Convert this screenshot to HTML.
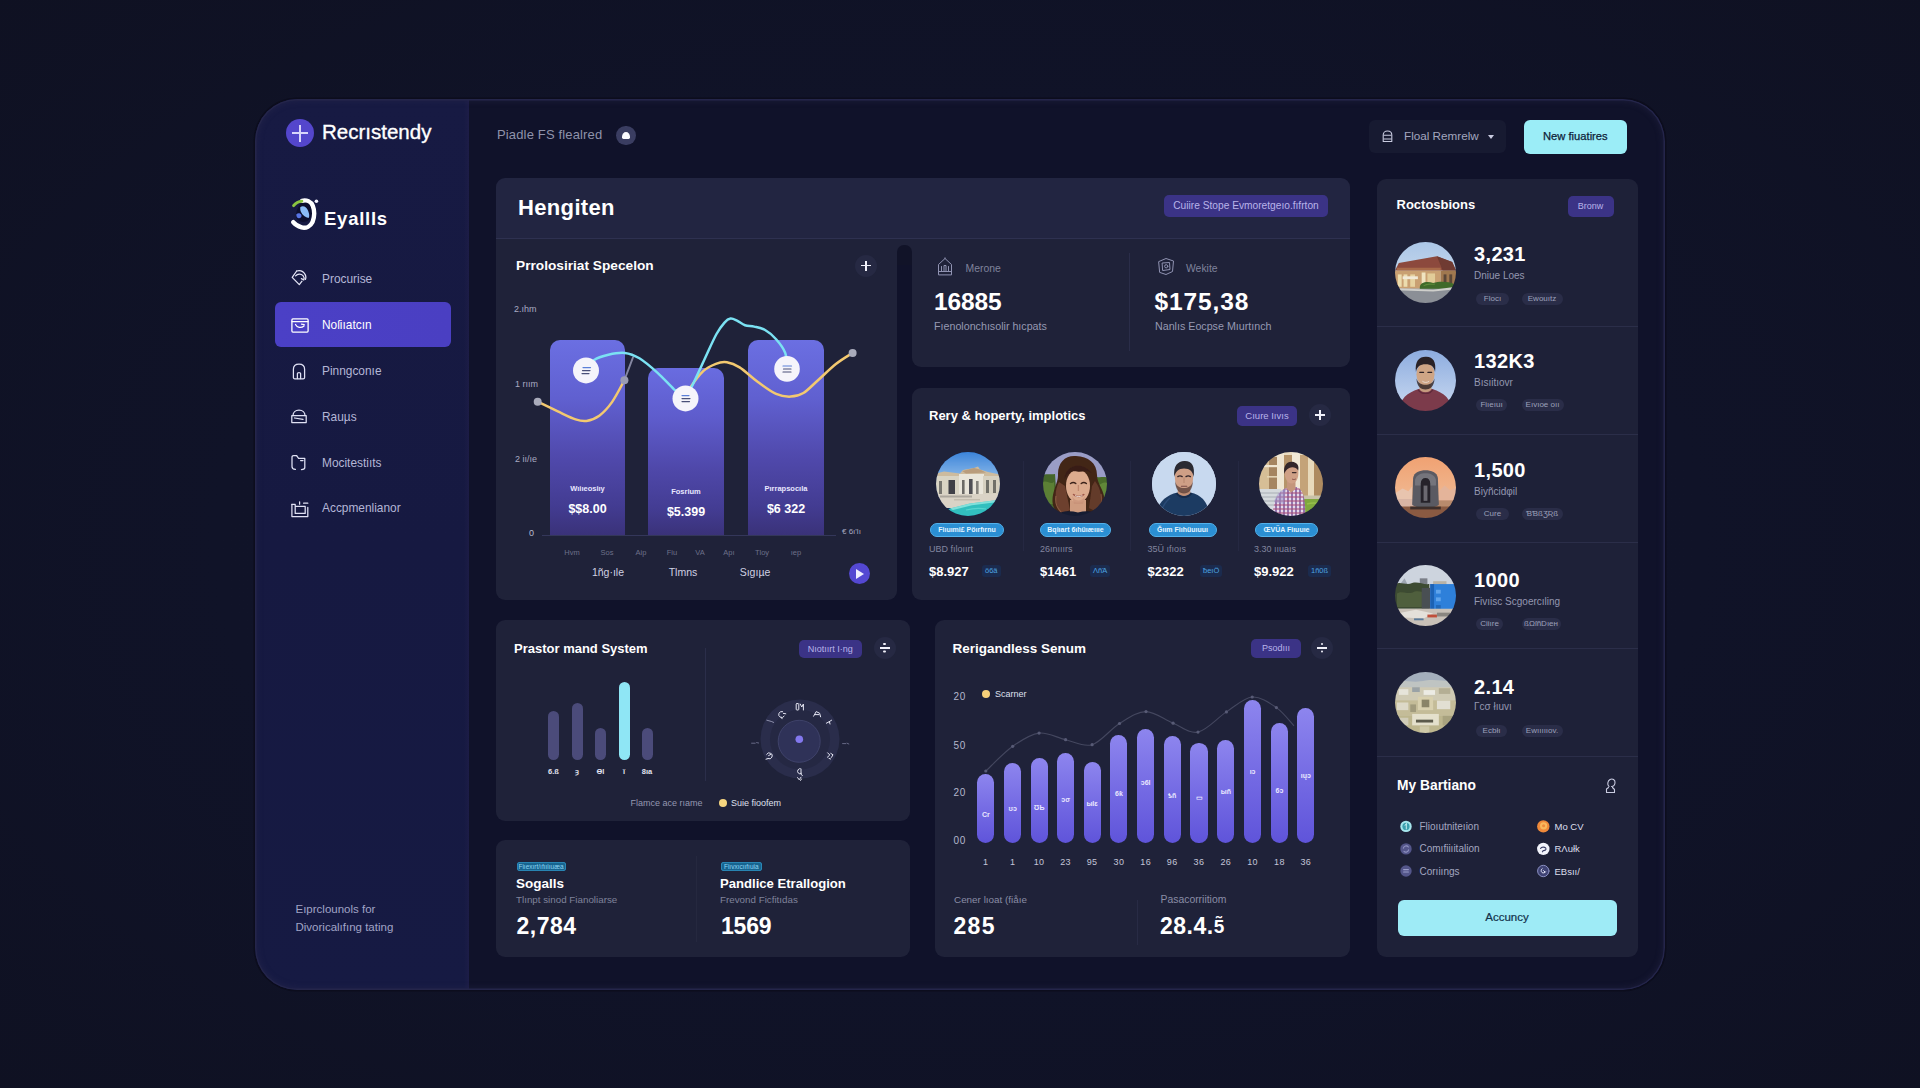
<!DOCTYPE html>
<html lang="en">
<head>
<meta charset="utf-8">
<title>Dashboard</title>
<style>
*{box-sizing:border-box;margin:0;padding:0}
html,body{width:1920px;height:1088px;overflow:hidden}
body{font-family:"Liberation Sans",sans-serif;color:#fff;background:#0e101f;position:relative}
.bg{position:absolute;left:0;top:0;width:1920px;height:1088px;background:radial-gradient(ellipse 1350px 800px at 960px 544px,#11142a 0%,#101328 55%,#0f1122 100%)}
.abs{position:absolute}
.t{position:absolute;white-space:nowrap;line-height:1}
.b{font-weight:bold}
.app{position:absolute;left:255px;top:99px;width:1410px;height:891px;border-radius:42px;background:#10122a;overflow:hidden;box-shadow:0 0 0 1.5px #0c0d1d}
.frame{position:absolute;left:0;top:0;width:1410px;height:891px;border-radius:42px;box-shadow:inset 0 0 0 1.5px #24254a,inset 0 0 6px 2px rgba(44,44,80,.45)}
.side{position:absolute;left:0;top:0;width:214px;height:891px;background:linear-gradient(180deg,#181b47 0%,#161944 60%,#161a45 100%)}
.card{position:absolute;background:#1f2239;border-radius:9px}
.pill{position:absolute;background:#3b3386;border-radius:5px;color:#b9b4ea;font-size:9.5px;text-align:center;white-space:nowrap}
.cbtn{position:absolute;width:22px;height:22px;border-radius:50%;background:#262943}
.cbtn:before{content:"";position:absolute;left:6px;top:10.35px;width:10px;height:1.3px;background:#f1f1fa}
.cbtn:after{content:"";position:absolute;left:10.35px;top:6px;width:1.3px;height:10px;background:#f1f1fa}
.cbtn.div:after{left:9.9px;top:6.1px;width:2.2px;height:2.2px;border-radius:50%;box-shadow:0 7.6px 0 #f1f1fa}
.cbtn.div:before{top:10.3px;height:1.4px}
.nav{position:absolute;left:67px;font-size:11.9px;color:#b4b6d6;white-space:nowrap;line-height:1}
.ico{position:absolute;left:36px;width:16px;height:16px}
.ico svg,.abs svg{display:block}
.tag{position:absolute;height:12px;border-radius:6px;background:#2a2d48;color:#9da0ba;font-size:8px;line-height:12px;text-align:center}
.sub{position:absolute;font-size:10px;color:#9497b0;white-space:nowrap;line-height:1}
.num{position:absolute;font-size:20px;font-weight:bold;white-space:nowrap;line-height:1;letter-spacing:.35px}
.hr{position:absolute;left:0;width:261px;height:1px;background:#2b2e49}
.av{position:absolute;width:62px;height:62px;border-radius:50%;overflow:hidden}
.av svg{display:block}
.bp{position:absolute;height:14px;border-radius:7px;background:#2b8fd3;border:1px solid #52b1ea;color:#e4f4ff;font-size:7px;line-height:12px;text-align:center;font-weight:bold;white-space:nowrap}
.pr{position:absolute;font-size:13px;font-weight:bold;white-space:nowrap;line-height:1}
.mt{position:absolute;height:12px;border-radius:3px;background:#1b2b4e;color:#4ea4e0;font-size:7.5px;line-height:12px;text-align:center;padding:0 3px}
.li{position:absolute;font-size:10px;white-space:nowrap;line-height:1}
</style>
</head>
<body>
<div class="bg"></div>
<div class="app">
<div class="pg" style="position:absolute;left:-255px;top:-99px;width:1920px;height:1088px">
  <div class="abs" style="left:255px;top:99px;width:214px;height:891px;background:linear-gradient(180deg,#171a43 0%,#161941 50%,#161a43 100%)"></div>
  <div class="abs" style="left:464px;top:99px;width:5px;height:891px;background:linear-gradient(90deg,rgba(40,34,80,0),rgba(40,34,80,.35))"></div>
  <!-- SIDEBAR -->
  <div class="abs" style="left:286px;top:119px;width:28px;height:28px;border-radius:50%;background:#5446cc">
    <div class="abs" style="left:6px;top:13.45px;width:16px;height:1.1px;background:#d9d5fb"></div>
    <div class="abs" style="left:13.45px;top:5.5px;width:1.1px;height:17px;background:#d9d5fb"></div>
  </div>
  <div class="t" id="brand" style="left:322px;top:122px;font-size:20.5px;color:#fff;-webkit-text-stroke:.35px #fff">Recrıstendy</div>
  <div class="abs" style="left:288px;top:196px"><svg width="32" height="36" viewBox="288 196 32 36" fill="none" stroke-linecap="round">
    <path d="M302 202.5C306.5 200.5 311.5 202.5 312.6 207.5C313.4 211.5 312 217.5 308 220.5C304.5 223 299.5 222 297.5 219.5C295 216 296 207.5 302 202.5Z" fill="#0d0f2e"/>
    <path d="M302 200.8C306.5 199.6 311 201.6 312.8 205.8C314.6 210 314.8 217 312.6 221.8C310.4 226.4 306 228.6 301.6 227.4C297.6 226.3 294.6 224 293.2 222.2" stroke="#fff" stroke-width="4.4"/>
    <path d="M293.6 205.6C295.8 202.8 298.6 201.4 301.8 201.2" stroke="#8ac440" stroke-width="3"/>
    <path d="M300.4 207C303.6 205.2 306.8 207.4 308.2 211C309.4 214 309.6 216.6 308.6 218C305.6 217.6 302.4 215 301 212C300.2 210.2 300 208.4 300.4 207Z" fill="#8bbcf8"/>
    <path d="M296.4 214.2C298 212.8 300.6 213.2 301.4 215C302 216.8 300.8 218.2 298.8 218.2C297.2 218.2 296 216.4 296.4 214.2Z" fill="#5774e4"/>
    <circle cx="316.4" cy="201.3" r="1.8" fill="#f4f4ff"/>
  </svg></div>
  <div class="t b" id="ey" style="left:324px;top:209.5px;font-size:18.5px;letter-spacing:.75px">Eyallls</div>

  <div class="abs" style="left:275px;top:302px;width:176px;height:45px;border-radius:6px;background:linear-gradient(90deg,#4b40c6,#4a3fc2)"></div>
  <div class="nav" style="left:322px;top:274px">Procurise</div>
  <div class="nav" style="left:322px;top:320px;color:#fff">Noſiıatcın</div>
  <div class="nav" style="left:322px;top:365.5px">Pinngconıe</div>
  <div class="nav" style="left:322px;top:412px">Rauµs</div>
  <div class="nav" style="left:322px;top:457.5px">Mocitestiıts</div>
  <div class="nav" style="left:322px;top:502.5px">Accpmenlianor</div>
  <!-- nav icons -->
  <div class="abs" style="left:291px;top:270px"><svg width="17" height="16" viewBox="0 0 17 16" fill="none" stroke="#e4e5f6" stroke-width="1.25" stroke-linecap="round" stroke-linejoin="round"><path d="M5.7 1L1.2 7.4L8.3 14.6L11 11.2"/><path d="M5.7 1C9 .2 12.6 1.6 14.2 4.6C15 6.2 15 8 14.4 9.4"/><path d="M4.6 5.8C6.4 3.6 10 3.4 12 5.6C13.2 7 13.4 8.6 12.8 10L10.4 8.6"/></svg></div>
  <div class="abs" style="left:290.5px;top:317.5px"><svg width="18" height="15" viewBox="0 0 18 15" fill="none" stroke="#fff" stroke-width="1.3" stroke-linecap="round" stroke-linejoin="round"><rect x=".9" y=".9" width="16.2" height="13.2" rx="1"/><path d="M1 3.6H17"/><path d="M4.5 6.5C6 9.5 10 10.5 13 8M10.5 6.2L13.2 6.6"/></svg></div>
  <div class="abs" style="left:292px;top:363px"><svg width="14" height="17" viewBox="0 0 14 17" fill="none" stroke="#e0e1f4" stroke-width="1.25" stroke-linecap="round" stroke-linejoin="round"><path d="M1.4 14.5V6.2C1.4 3 3.6 1 7 1C10.4 1 12.6 3 12.6 6.2V14.5C12.6 15.4 12 15.8 11.2 15.8H2.8C2 15.8 1.4 15.4 1.4 14.5Z"/><path d="M5.4 15.5V10.5C5.4 9.3 8.6 9.3 8.6 10.5V15.5"/></svg></div>
  <div class="abs" style="left:291px;top:409px"><svg width="16" height="15" viewBox="0 0 16 15" fill="none" stroke="#e0e1f4" stroke-width="1.25" stroke-linecap="round" stroke-linejoin="round"><path d="M.8 6.6H15.2V13.6H.8Z"/><path d="M2 6.6C2 3.4 4.4 1.2 8 1.2C11.6 1.2 14 3.4 14 6.6"/><path d="M3.6 9L12 10.4"/></svg></div>
  <div class="abs" style="left:291px;top:454px"><svg width="15" height="17" viewBox="0 0 15 17" fill="none" stroke="#e0e1f4" stroke-width="1.25" stroke-linecap="round" stroke-linejoin="round"><path d="M5.6 1.6H2.6C1.6 1.6 1 2.2 1 3.2V12.4C1 14 2.4 15.2 4.4 15.4"/><path d="M5.6 1.6L7.6 4.4H13.8V13.6C13.8 14.8 12.6 15.6 10.4 15.6"/><path d="M9.6 6.6H12"/></svg></div>
  <div class="abs" style="left:290.5px;top:500.5px"><svg width="18" height="17" viewBox="0 0 18 17" fill="none" stroke="#e0e1f4" stroke-width="1.25" stroke-linecap="round" stroke-linejoin="round"><path d="M.9 3.4V15.6H16.8V6.4"/><path d="M.9 3.4H4.2V12.4H14.2V5.4H4.2"/><path d="M8.6 .8V3.2M12.6 2.2H16.8"/></svg></div>
  <div class="t" style="left:295.5px;top:904px;font-size:11.5px;color:#a1a4c6">Eıprclounols for</div>
  <div class="t" style="left:295.5px;top:922px;font-size:11.5px;color:#a1a4c6">Divoricalıfıng tating</div>

  <!-- TOP BAR -->
  <div class="t" style="left:497px;top:128px;font-size:13px;letter-spacing:.15px;color:#8f92ab">Piadle FS flealred</div>
  <div class="abs" style="left:616.4px;top:125.5px;width:19.4px;height:19.4px;border-radius:50%;background:#3a3d61"><div class="abs" style="left:5.4px;top:6.2px;width:8.4px;height:7.6px;border-radius:4.2px 4.2px 1.5px 1.5px / 5px 5px 1.5px 1.5px;background:#fbfbff"></div></div>
  <div class="abs" style="left:1369px;top:120px;width:137px;height:33px;border-radius:6px;background:#171a31"></div>
  <div class="abs" style="left:1382px;top:130px"><svg width="11" height="13" viewBox="0 0 11 13" fill="none" stroke="#c9cbe0" stroke-width="1.1" stroke-linejoin="round"><path d="M1.2 11.5V5C1.2 2.6 3 1 5.5 1C8 1 9.8 2.6 9.8 5V11.5Z"/><path d="M1.5 5.2H9.5M1.5 9H9.5"/></svg></div>
  <div class="t" style="left:1404px;top:130px;font-size:11.7px;color:#a3a6bf">Floal Remrelw</div>
  <div class="abs" style="left:1488px;top:134.5px;width:0;height:0;border-left:3.5px solid transparent;border-right:3.5px solid transparent;border-top:4px solid #c9cbe0"></div>
  <div class="abs" style="left:1524px;top:120px;width:103px;height:33.5px;border-radius:6px;background:#9bedf7"></div>
  <div class="t" style="left:1543px;top:130.5px;font-size:11.2px;color:#0f2238;-webkit-text-stroke:.25px #0f2238">New fiuatires</div>
  <!-- HENGITEN PANEL -->
  <div class="abs" style="left:496px;top:178px;width:854px;height:61px;border-radius:9px 9px 0 0;background:#222541"></div>
  <div class="abs" style="left:496px;top:238px;width:854px;height:1px;background:#2e3150"></div>
  <div class="abs" style="left:496px;top:239px;width:401px;height:361px;border-radius:0 0 9px 9px;background:#1f2239"></div>
  <div class="abs" style="left:897px;top:239px;width:15px;height:14px;background:#1f2239"></div>
  <div class="abs" style="left:897px;top:245px;width:15px;height:20px;border-radius:7px 7px 0 0;background:#111328"></div>
  <div class="abs" style="left:912px;top:239px;width:438px;height:128px;border-radius:0 0 9px 9px;background:#1f2239"></div>
  <div class="t b" style="left:518px;top:196.5px;font-size:22px;letter-spacing:.35px">Hengiten</div>
  <div class="pill" style="left:1164px;top:195px;width:164px;height:22px;line-height:22px;font-size:10.2px">Cuiire Stope Evmoretgeıo.fıfrton</div>

  <!-- chart card -->
  <div class="t b" style="left:516px;top:258.5px;font-size:13.7px">Prrolosiriat Specelon</div>
  <div class="cbtn" style="left:855px;top:254.5px"></div>
  <div class="t" style="left:514px;top:304.5px;font-size:9px;color:#a9abc2">2.ıhm</div>
  <div class="t" style="left:515px;top:379.5px;font-size:9px;color:#a9abc2">1 rıım</div>
  <div class="t" style="left:515px;top:455px;font-size:9px;color:#a9abc2">2 iı/ıe</div>
  <div class="t" style="left:529px;top:529px;font-size:9px;color:#b9bbd0">0</div>
  <div class="t" style="left:842px;top:528px;font-size:8px;color:#a5a8c0">€ 6ı'lı</div>
  <div class="abs" style="left:542px;top:535px;width:294px;height:1px;background:#34375a"></div>
  <div class="abs" style="left:550px;top:340px;width:75px;height:195px;border-radius:10px 10px 0 0;background:linear-gradient(180deg,#6b6fe2 0%,#6060d0 30%,#5049ac 60%,#433c92 85%,#3a3279 100%)"></div>
  <div class="abs" style="left:648px;top:368px;width:76px;height:167px;border-radius:10px 10px 0 0;background:linear-gradient(180deg,#696ce0 0%,#5e5ccc 30%,#4f48aa 60%,#433c92 85%,#3a3279 100%)"></div>
  <div class="abs" style="left:748px;top:340px;width:76px;height:195px;border-radius:10px 10px 0 0;background:linear-gradient(180deg,#6b6fe2 0%,#6060d0 30%,#5049ac 60%,#433c92 85%,#3a3279 100%)"></div>
  <div class="abs" style="left:496px;top:239px"><svg width="401" height="361" viewBox="496 239 401 361" fill="none" stroke-linecap="round" stroke-linejoin="round">
    <path d="M624.4 380.2L633 357.4" stroke="#8587a2" stroke-width="1.9"/>
    <path d="M537.7 401.7C541.0 403.3 551.0 408.2 557.3 411.2C563.6 414.1 570.7 417.8 575.6 419.4C580.5 421.0 582.5 421.5 586.5 420.9C590.5 420.3 595.0 418.8 599.3 415.7C603.5 412.6 607.8 408.0 612.0 402.1C616.2 396.2 622.3 383.9 624.4 380.2" stroke="#f3c970" stroke-width="2.5"/>
    <path d="M685.5 398.4C686.3 396.6 687.4 392.1 690.4 387.5C693.4 382.9 699.0 375.1 703.2 371.1C707.5 367.2 712.0 365.3 715.9 363.8C719.8 362.3 722.9 361.7 726.9 362.3C730.9 362.9 734.4 364.1 739.6 367.4C744.8 370.7 751.8 377.6 757.9 382.0C764.0 386.4 770.6 391.5 776.1 393.9C781.6 396.3 786.2 396.8 790.7 396.6C795.2 396.5 798.9 395.7 803.4 393.0C807.9 390.3 812.5 385.1 818.0 380.2C823.5 375.3 830.4 368.4 836.2 363.8C842.0 359.2 849.9 354.7 852.6 352.9" stroke="#f3c970" stroke-width="2.5"/>
    <path d="M586.0 370.2C587.3 368.5 590.1 362.8 593.8 360.2C597.5 357.6 603.2 355.9 608.4 354.7C613.6 353.5 619.6 352.3 624.8 352.9C630.0 353.5 633.9 355.0 639.4 358.3C644.9 361.6 651.8 367.7 657.6 372.9C663.4 378.1 669.4 385.1 674.0 389.3C678.6 393.6 683.6 396.9 685.5 398.4" stroke="#7be2f3" stroke-width="2.5"/>
    <path d="M685.5 398.4C686.6 396.3 689.0 392.4 692.2 385.7C695.5 379.0 701.0 366.9 705.0 358.3C709.0 349.7 713.2 339.9 716.5 334.0C719.8 328.1 722.2 325.2 724.5 322.6C726.8 320.0 728.4 318.9 730.5 318.6C732.6 318.3 734.6 319.5 737.0 320.6C739.4 321.7 742.1 324.2 745.0 325.2C747.9 326.2 750.9 325.8 754.2 326.6C757.6 327.4 761.5 327.9 765.1 330.0C768.8 332.1 772.8 335.4 776.1 339.2C779.5 343.0 783.4 347.9 785.2 352.9C787.0 357.8 786.7 366.2 787.0 368.9" stroke="#7be2f3" stroke-width="2.5"/>
    <circle cx="537.7" cy="401.7" r="4" fill="#a9abbb" stroke="none"/>
    <circle cx="624.4" cy="380.2" r="4" fill="#9a9cb4" stroke="none"/>
    <circle cx="852.6" cy="352.9" r="4" fill="#a9abbb" stroke="none"/>
    <circle cx="586" cy="370.4" r="13" fill="#f5f4fb" stroke="none"/>
    <circle cx="685.5" cy="398.4" r="13" fill="#f5f4fb" stroke="none"/>
    <circle cx="787" cy="368.9" r="12.8" fill="#f5f4fb" stroke="none"/>
    <g stroke="#4a4f78" stroke-width="1.2"><path d="M582.5 370.6H590M582 373.6H589"/><path d="M682 398.6H690M682 401.6H689.5"/><path d="M783.5 369H791M783 372H791"/></g><g stroke="#5b7fd8" stroke-width="1.2"><path d="M583 367.6H590.5"/><path d="M682 395.6H689"/><path d="M783 366H791.5"/></g>
  </svg></div>
  <div class="t b" style="left:550px;top:485px;width:75px;text-align:center;font-size:7.5px;color:#e8e7ff">Wıiıeosiıy</div>
  <div class="t b" style="left:550px;top:502.5px;width:75px;text-align:center;font-size:12.5px">$$8.00</div>
  <div class="t b" style="left:648px;top:488px;width:76px;text-align:center;font-size:7.5px;color:#e8e7ff">Fosrium</div>
  <div class="t b" style="left:648px;top:505.5px;width:76px;text-align:center;font-size:12.5px">$5.399</div>
  <div class="t b" style="left:748px;top:485px;width:76px;text-align:center;font-size:7.5px;color:#e8e7ff">Pırrapsocıla</div>
  <div class="t b" style="left:748px;top:502.5px;width:76px;text-align:center;font-size:12.5px">$6 322</div>
  <div class="t" style="left:552px;top:549px;width:40px;text-align:center;font-size:7.5px;color:#6d7089">Hvm</div>
  <div class="t" style="left:587px;top:549px;width:40px;text-align:center;font-size:7.5px;color:#6d7089">Sos</div>
  <div class="t" style="left:621px;top:549px;width:40px;text-align:center;font-size:7.5px;color:#6d7089">Aip</div>
  <div class="t" style="left:652px;top:549px;width:40px;text-align:center;font-size:7.5px;color:#6d7089">Fiu</div>
  <div class="t" style="left:680px;top:549px;width:40px;text-align:center;font-size:7.5px;color:#6d7089">VA</div>
  <div class="t" style="left:709px;top:549px;width:40px;text-align:center;font-size:7.5px;color:#6d7089">Apı</div>
  <div class="t" style="left:742px;top:549px;width:40px;text-align:center;font-size:7.5px;color:#6d7089">Tloy</div>
  <div class="t" style="left:776px;top:549px;width:40px;text-align:center;font-size:7.5px;color:#6d7089">ıep</div>
  <div class="t" style="left:578px;top:566.5px;width:60px;text-align:center;font-size:10.5px;color:#cfd1e4">1ñg·ıle</div>
  <div class="t" style="left:653px;top:566.5px;width:60px;text-align:center;font-size:10.5px;color:#cfd1e4">Tlmns</div>
  <div class="t" style="left:725px;top:566.5px;width:60px;text-align:center;font-size:10.5px;color:#cfd1e4">Sıgıµe</div>
  <div class="abs" style="left:848.5px;top:563px;width:21px;height:21px;border-radius:50%;background:#5448d2"><div class="abs" style="left:7.5px;top:5.5px;width:0;height:0;border-top:5px solid transparent;border-bottom:5px solid transparent;border-left:8px solid #f0eeff"></div></div>

  <!-- stats -->
  <div class="abs" style="left:936px;top:257px"><svg width="18" height="19" viewBox="0 0 18 19" fill="none" stroke="#9093b2" stroke-width="1" stroke-linejoin="round" stroke-linecap="round"><path d="M2.5 17.5V7.5L9 1.5L15.5 7.5V17.5Z"/><path d="M2.5 14.5H15.5M5.5 14V9.5M8 14V8.5H10V14M12.5 14V9.5M9 1.5V0.8"/></svg></div>
  <div class="t" style="left:965.5px;top:264px;font-size:10.4px;color:#7f829c">Merone</div>
  <div class="t b" style="left:934px;top:290px;font-size:24.5px;letter-spacing:-.1px">16885</div>
  <div class="t" style="left:934px;top:321px;font-size:10.7px;color:#9699b2">Fıenolonchısolir hıcpats</div>
  <div class="abs" style="left:1128.5px;top:253px;width:1px;height:98px;background:#2a2d49"></div>
  <div class="abs" style="left:1157px;top:257px"><svg width="18" height="19" viewBox="0 0 18 19" fill="none" stroke="#9093b2" stroke-width="1" stroke-linejoin="round" stroke-linecap="round"><path d="M2 4.5L9 1.5L16.5 4L15.5 14.5L9 17.5L3 15.5Z"/><path d="M5.5 6L12.5 5.5L13 12.5L6 13.5Z"/><circle cx="9.2" cy="9.3" r="1.6"/></svg></div>
  <div class="t" style="left:1186px;top:264px;font-size:10.4px;color:#7f829c">Wekite</div>
  <div class="t b" style="left:1154.5px;top:290px;font-size:24.5px;letter-spacing:.9px">$175,38</div>
  <div class="t" style="left:1155px;top:321px;font-size:10.7px;color:#9699b2">Nanlıs Eocpse Mıurtınch</div>
  <!-- RERY CARD -->
  <div class="card" style="left:912px;top:388px;width:438px;height:212px"></div>
  <div class="t b" style="left:929px;top:409px;font-size:13px">Rery &amp; hoperty, implotics</div>
  <div class="pill" style="left:1237px;top:406px;width:60px;height:20px;line-height:20px">Cıure Iıvıs</div>
  <div class="cbtn" style="left:1309px;top:404px"></div>
  <div class="abs" style="left:1023px;top:461px;width:1px;height:90px;background:#252842"></div>
  <div class="abs" style="left:1130px;top:461px;width:1px;height:90px;background:#252842"></div>
  <div class="abs" style="left:1237.5px;top:461px;width:1px;height:90px;background:#252842"></div>
  <div class="av" id="av1" style="left:936px;top:451.5px;width:64px;height:64px"><svg width="100%" height="100%" viewBox="0 0 64 64" preserveAspectRatio="none"><defs><filter id="bl1" x="-5%" y="-5%" width="110%" height="110%"><feGaussianBlur stdDeviation=".55"/></filter><linearGradient id="a1s" x1="0" y1="0" x2="0" y2="1"><stop offset="0" stop-color="#3680d8"/><stop offset="1" stop-color="#8fbcea"/></linearGradient></defs>
<rect width="64" height="64" fill="#0f2c5e"/><g filter="url(#bl1)">
<rect x="-2" y="-2" width="68" height="30" fill="url(#a1s)"/>
<path d="M-2 22L8 19.5L24 21.5L27 18L38 16L42 14.5L44 17.5L52 20L66 23V30H-2Z" fill="#cdbb9e"/>
<path d="M26 19L38 16L44 17.5L50 20.5L30 21.5Z" fill="#b99c7c"/>
<rect x="-2" y="24" width="26" height="22" fill="#d9d4c4"/><rect x="23" y="22" width="25" height="24" fill="#e9e5da"/><rect x="47" y="24" width="19" height="21" fill="#d6d0c0"/>
<rect x="12.5" y="28" width="6.5" height="14" fill="#3f4046"/><rect x="3" y="29" width="3" height="13" fill="#77766f"/><rect x="26" y="28" width="2.6" height="15" fill="#6c6b66"/><rect x="33" y="27" width="3.6" height="16" fill="#4f5054"/><rect x="40" y="29" width="2.6" height="13" fill="#84827b"/><rect x="50" y="28" width="3" height="13" fill="#716f69"/><rect x="57" y="28" width="3" height="13" fill="#716f69"/>
<path d="M-2 42H66V56H-2Z" fill="#dad3c6"/><path d="M4 43.5H36V45.5H4Z" fill="#87847e" opacity=".55"/><path d="M18 47H44V48.5H18Z" fill="#b9b2a4" opacity=".7"/>
<path d="M66 47.5L34 51.5L14 56.5L2 62L10 66H66Z" fill="#33bfbe"/><path d="M66 47.5L34 51.5L14 56.5L17 58L36 53.2L66 49.6Z" fill="#8fe6e0" opacity=".85"/>
<path d="M30 58C36 56.5 44 56 50 57" stroke="#57d4d0" stroke-width="1.2" fill="none"/>
</g></svg></div>
  <div class="bp" style="left:930px;top:522.5px;width:74px">Fiıuımi£ Pöırfırnu</div>
  <div class="sub" style="left:929px;top:545px;font-size:9px;color:#82859f">UBD fıloıırt</div>
  <div class="pr" style="left:929px;top:564.5px">$8.927</div>
  <div class="mt" style="left:982px;top:565px">ö6ä</div>
  <div class="av" id="av2" style="left:1043px;top:451.5px;width:64px;height:64px"><svg width="100%" height="100%" viewBox="0 0 64 64" preserveAspectRatio="none"><defs><filter id="bl2" x="-5%" y="-5%" width="110%" height="110%"><feGaussianBlur stdDeviation=".55"/></filter></defs><rect width="64" height="64" fill="#1a2040"/><g filter="url(#bl2)">
<rect x="-2" y="-2" width="68" height="68" fill="#9a9dc6"/>
<path d="M-2 24C3 21 7 23 12 22L15 66H-2Z" fill="#44662a"/><path d="M66 26C61 24 57 26 54 25L50 66H66Z" fill="#4a6c2c"/>
<path d="M0 30C4 28 8 33 11 30L12 52H0Z" fill="#638a3a" opacity=".75"/><path d="M64 31C60 29 57 34 55 32L55 54H64Z" fill="#6a913e" opacity=".75"/>
<path d="M33 4C22 3 14.5 11 15 23C15.3 31 9 39 9.5 50C10 58 16 63 22 66H50C58 62 63 54 61 44C59.5 36 54 31 54 23C54 11 45 4.5 33 4Z" fill="#432518"/>
<path d="M16 30C11.5 38 10.5 51 19 62L27 58L22 34Z" fill="#6d412e"/><path d="M52 29C58 37 61 48 54 60L46 56L49 34Z" fill="#643b2a"/>
<path d="M13 44C12 50 14 56 18 60" stroke="#8a5a40" stroke-width="1.2" fill="none"/><path d="M58 42C59.5 48 58 55 54 59" stroke="#7c4e38" stroke-width="1.2" fill="none"/>
<path d="M27 48H43V66H27Z" fill="#cf9c80"/>
<ellipse cx="35" cy="34" rx="12" ry="16.5" fill="#dcab8e"/>
<path d="M29 44C32 50 39 50 42 44L40 52H31Z" fill="#c48e74" opacity=".6"/>
<path d="M21.5 27C22 13 39 8.5 48.5 21C44 17.5 39 20.5 34 19.5C28.5 18.5 24.5 21 21.5 27Z" fill="#371e14"/>
<path d="M27.5 31.5C29 30.4 31.5 30.4 32.8 31.5M38.2 31.5C39.6 30.4 42 30.4 43.4 31.5" stroke="#3b241c" stroke-width="1.4" stroke-linecap="round" fill="none"/>
<path d="M30.5 42.5C33.5 45.2 38 45.2 40.8 42.5" stroke="#9d5648" stroke-width="1.5" fill="none" stroke-linecap="round"/>
<path d="M32 43.6C34 44.8 37.5 44.8 39.4 43.6" stroke="#f3e6e0" stroke-width=".9" fill="none"/>
<path d="M35.4 33V39" stroke="#c18a70" stroke-width="1.3"/>
<path d="M12 66C16 58.5 26 58.5 35 60.5C44 58.5 52 58.5 56 66Z" fill="#151a30"/>
</g></svg></div>
  <div class="bp" style="left:1040px;top:522.5px;width:71px">Bqiıart 6ıhüıæıııe</div>
  <div class="sub" style="left:1040px;top:545px;font-size:9px;color:#82859f">26ınııırs</div>
  <div class="pr" style="left:1040px;top:564.5px">$1461</div>
  <div class="mt" style="left:1090px;top:565px">ΛñΆ</div>
  <div class="av" id="av3" style="left:1152px;top:451.5px;width:64px;height:64px"><svg width="100%" height="100%" viewBox="0 0 64 64" preserveAspectRatio="none"><defs><filter id="bl3" x="-5%" y="-5%" width="110%" height="110%"><feGaussianBlur stdDeviation=".55"/></filter></defs><rect width="64" height="64" fill="#c8d9ef"/><g filter="url(#bl3)">
<rect x="-2" y="-2" width="68" height="68" fill="#c8d9ef"/>
<path d="M3 66C5 51 13 43.5 25.5 40.5H38.5C51 43.5 56.5 51 58 66Z" fill="#1f3b62"/>
<path d="M8 66C9 56 13 50 18 46" stroke="#2b4c78" stroke-width="1.4" fill="none"/>
<path d="M25.5 40.8C28 45 36 45 38.5 40.8L37.5 34H26.5Z" fill="#bf8e74"/>
<path d="M24.5 41.2C28 46.4 36 46.4 39.5 41.2" stroke="#152a4a" stroke-width="1.6" fill="none"/>
<path d="M22.8 24C22.8 15 26.5 11.5 32 11.5C37.5 11.5 41.2 15 41.2 24C41.2 33 37.5 40.5 32 40.5C26.5 40.5 22.8 33 22.8 24Z" fill="#cf9f86"/>
<path d="M23 29C23.5 38 27.5 41.5 32 41.5C36.5 41.5 40.5 38 41 29C39.5 34.5 36 36 32 36C28 36 24.5 34.5 23 29Z" fill="#5b4038" opacity=".8"/>
<path d="M22.4 25C20.8 13.5 26.5 8.6 33 9C40 9.4 43.2 14 41.6 25C41 19.5 38 16.4 32 16.4C26.6 16.4 23.2 19.5 22.4 25Z" fill="#2b2930"/>
<path d="M25.8 24.6C27 23.8 29 23.8 30.2 24.6M34 24.6C35.2 23.8 37.2 23.8 38.4 24.6" stroke="#33262a" stroke-width="1.3" stroke-linecap="round" fill="none"/>
<path d="M32 25.5V31" stroke="#b98a72" stroke-width="1.2"/>
<path d="M29.4 34.2H34.8" stroke="#7a4a44" stroke-width="1.1" stroke-linecap="round"/>
</g></svg></div>
  <div class="bp" style="left:1148.5px;top:522.5px;width:68px">Ğıım Fiıhüuıuuı</div>
  <div class="sub" style="left:1147.5px;top:545px;font-size:9px;color:#82859f">35Ü ıfıoıs</div>
  <div class="pr" style="left:1147.5px;top:564.5px">$2322</div>
  <div class="mt" style="left:1200px;top:565px">ƀeıÖ</div>
  <div class="av" id="av4" style="left:1259px;top:451.5px;width:64px;height:64px"><svg width="100%" height="100%" viewBox="0 0 64 64" preserveAspectRatio="none"><defs><filter id="bl4" x="-5%" y="-5%" width="110%" height="110%"><feGaussianBlur stdDeviation=".55"/></filter><pattern id="pl" width="4" height="4" patternUnits="userSpaceOnUse"><rect width="4" height="4" fill="#e6d9ea"/><rect width="2" height="4" fill="#7c5a9e" opacity=".78"/><rect width="4" height="2" fill="#a84f78" opacity=".55"/></pattern></defs>
<rect width="64" height="64" fill="#1b2238"/><g filter="url(#bl4)">
<rect x="-2" y="-2" width="68" height="68" fill="#e9dcc0"/>
<rect x="-2" y="-2" width="12" height="46" fill="#d6be96"/><rect x="10" y="5" width="8" height="39" fill="#a58560"/><rect x="18" y="-2" width="7" height="48" fill="#efe6d2"/><rect x="25" y="3" width="8" height="41" fill="#b5946a"/><rect x="33" y="-2" width="8" height="48" fill="#f1e9d6"/><rect x="41" y="3" width="8" height="41" fill="#c4a378"/><rect x="49" y="-2" width="6" height="48" fill="#e8dabb"/><rect x="55" y="5" width="11" height="41" fill="#ae8b60"/>
<rect x="5" y="13" width="15" height="2.2" fill="#efe6d2"/><rect x="8" y="24" width="10" height="1.6" fill="#e3d4b4"/>
<path d="M-2 37H22V66H-2Z" fill="#d5dadd"/><path d="M-2 41H20M-2 45H20M-2 49H20M-2 53H20" stroke="#a8aeb4" stroke-width="1"/>
<path d="M40 46H66V66H40Z" fill="#7fa83c"/><path d="M40 43.5H66V47H40Z" fill="#c9c2a8"/><path d="M48 52C54 50 60 51 66 53" stroke="#96be4c" stroke-width="1.4" fill="none"/>
<path d="M13 66C14 50 18.5 40 27 36L38 35C44.5 38 47 48 46 66Z" fill="url(#pl)"/>
<path d="M15 50C17 43 21 38.5 27 36L25 52Z" fill="#9d93c8" opacity=".55"/>
<path d="M28 29H36.5V37L32.2 40.5L28 37Z" fill="#c4967c"/>
<path d="M25.8 21C25.8 14 28.8 11 32.6 11C36.6 11 39.4 14 39.4 21C39.4 27 36.6 31.5 32.6 31.5C28.8 31.5 25.8 27 25.8 21Z" fill="#cfa086"/>
<path d="M25.4 22C23.8 13.8 28 9.4 33 9.8C38.2 10.2 40.4 14 39.2 18.4C37.2 15.2 33.2 14.6 30.2 16C27.2 17.4 26 19.8 25.4 22Z" fill="#33262a"/>
<path d="M33.4 20.6H37" stroke="#3a2a2a" stroke-width="1.1" stroke-linecap="round"/><path d="M33 27C34.4 27.8 36 27.6 37 26.8" stroke="#8a5248" stroke-width=".9" fill="none"/>
</g></svg></div>
  <div class="bp" style="left:1255px;top:522.5px;width:63px">ŒVÜA Fiıuuıe</div>
  <div class="sub" style="left:1254px;top:545px;font-size:9px;color:#82859f">3.30 ııuaıs</div>
  <div class="pr" style="left:1254px;top:564.5px">$9.922</div>
  <div class="mt" style="left:1308px;top:565px">1ñ0ß</div>
<!-- PRASTOR CARD -->
  <div class="card" style="left:496px;top:620px;width:414px;height:201px"></div>
  <div class="t b" style="left:514px;top:641.5px;font-size:13px">Prastor mand System</div>
  <div class="pill" style="left:798.5px;top:639.5px;width:63.5px;height:18px;line-height:18px;font-size:9px">Nıotıırt I·ng</div>
  <div class="cbtn div" style="left:873.5px;top:637px"></div>
  <div class="abs" style="left:705px;top:648px;width:1px;height:133px;background:#2b2e4a"></div>
  <div class="abs" style="left:548px;top:711px;width:11px;height:48.5px;border-radius:5.5px;background:#4b4b7a"></div>
  <div class="abs" style="left:571.5px;top:702.5px;width:11px;height:57.0px;border-radius:5.5px;background:#4b4b7a"></div>
  <div class="abs" style="left:595px;top:728px;width:11px;height:31.5px;border-radius:5.5px;background:#4b4b7a"></div>
  <div class="abs" style="left:618.5px;top:682px;width:11px;height:77.5px;border-radius:5.5px;background:#8fe6f5"></div>
  <div class="abs" style="left:641.5px;top:728px;width:11px;height:31.5px;border-radius:5.5px;background:#4b4b7a"></div>
  <div class="t b" style="left:538px;top:768px;width:31px;text-align:center;font-size:7.5px;color:#e2e3f0">6.ß</div>
  <div class="t b" style="left:561.5px;top:768px;width:31px;text-align:center;font-size:7.5px;color:#e2e3f0">ȝ</div>
  <div class="t b" style="left:585px;top:768px;width:31px;text-align:center;font-size:7.5px;color:#e2e3f0">ϴl</div>
  <div class="t b" style="left:608.5px;top:768px;width:31px;text-align:center;font-size:7.5px;color:#e2e3f0">ï</div>
  <div class="t b" style="left:631.5px;top:768px;width:31px;text-align:center;font-size:7.5px;color:#e2e3f0">8ıa</div>
  <div class="abs" style="left:745px;top:690px"><svg width="110" height="100" viewBox="745 690 110 100">
    <circle cx="800" cy="739" r="39.5" fill="#2a2d4b"/>
    <circle cx="800" cy="739.6" r="30" fill="#252843"/>
    <circle cx="799.2" cy="741.3" r="21" fill="#2f3258" stroke="#41446c" stroke-width=".9"/>
    <circle cx="799.3" cy="739.2" r="3.8" fill="#8378ee"/>
    <g fill="none" stroke="#e6e7f4" stroke-width="1" stroke-linecap="round" stroke-linejoin="round">
      <rect x="796.2" y="703.6" width="2.6" height="6.4" rx=".8"/><path d="M800.2 704l1.6 3l1.6-3v6"/>
      <path d="M782.6 711.6a3 3 0 1 0 1.6 4.6M783.4 713.4l2.4.4M781 717.4l1.2 1.4"/>
      <path d="M813.6 716.2l2.6-4.6l3.4 1.6l1 3.6M815.4 714.6h3.4"/>
      <path d="M826.4 723.2l2.6-1.4l2.6-1.6M829.4 721.6l.6 2.4"/>
      <path d="M766.8 720.2l4.4 1.2l2.4 1" stroke="#8f91ad"/>
      <path d="M751.6 743.2h3.6M756.6 742.6l2 .4" stroke="#6f7290" stroke-width=".9"/>
      <path d="M842.6 743.6h3.2M847 743.2l1.8.8" stroke="#6f7290" stroke-width=".9"/>
      <path d="M766.6 754.4a3 3 0 1 1 1.4 4.2M768.6 755.6l2.6-1.4M766 759.2l2-.6"/>
      <path d="M827.6 752.8l2.2 2.2l-2.4 2.2M830.8 753.4l2.2 1.4l-1.6 2.6M829 758.4l1.6.6"/>
      <path d="M801.2 769a2.4 2.6 0 1 0 .2 4.4M801 770v4.400l1.400 1"/>
      <path d="M797.6 777.600l1.600 2.200l1.800-2.600M800.600 780.400l.8-1.400"/>
    </g></svg></div>
  <div class="t" style="left:630.5px;top:798.5px;font-size:9px;color:#9497b0">Flamce ace rıame</div>
  <div class="abs" style="left:718.5px;top:799px;width:8px;height:8px;border-radius:50%;background:#f6d680"></div>
  <div class="t" style="left:731px;top:798.5px;font-size:9px;color:#dfe0ee">Suie fioofem</div>

<!-- BOTTOM STAT CARD -->
  <div class="card" style="left:496px;top:840px;width:414px;height:117px"></div>
  <div class="abs" style="left:695.5px;top:856px;width:1px;height:86px;background:#25283f"></div>
  <div class="abs" style="left:516.5px;top:861.5px;width:49px;height:9px;border-radius:3px;background:#17648f;box-shadow:inset 0 0 0 .8px #2f8fbe;color:#8fd4f4;font-size:6.5px;line-height:9px;text-align:center">Fiıexırt/ıfııiıuæa</div>
  <div class="t b" style="left:516px;top:876.5px;font-size:13.5px">Sogalls</div>
  <div class="t" style="left:516px;top:894.5px;font-size:9.8px;color:#7f829b">Tlınpt sinod Fianoliarse</div>
  <div class="t b" style="left:516.5px;top:914.5px;font-size:23px;letter-spacing:.5px">2,784</div>
  <div class="abs" style="left:720.5px;top:861.5px;width:41.5px;height:9px;border-radius:3px;background:#17648f;box-shadow:inset 0 0 0 .8px #2f8fbe;color:#8fd4f4;font-size:6.5px;line-height:9px;text-align:center">Fiıvxıcııfıuia</div>
  <div class="t b" style="left:720px;top:876.5px;font-size:13.1px">Pandlice Etrallogion</div>
  <div class="t" style="left:720px;top:894.5px;font-size:9.8px;color:#7f829b">Frevond Ficfitıdas</div>
  <div class="t b" style="left:721px;top:914.5px;font-size:23px;letter-spacing:-.2px">1569</div>

<!-- RERIGAN CARD -->
  <div class="card" style="left:935px;top:620px;width:415px;height:337px"></div>
  <div class="t b" style="left:952.5px;top:641.5px;font-size:13.5px">Rerigandless Senum</div>
  <div class="pill" style="left:1251px;top:639px;width:50px;height:19px;line-height:19px;font-size:9px">Psodııı</div>
  <div class="cbtn div" style="left:1311px;top:637px"></div>
  <div class="abs" style="left:981.8px;top:689.7px;width:8px;height:8px;border-radius:50%;background:#f6d07a"></div>
  <div class="t" style="left:995px;top:689.5px;font-size:9px;color:#dfe0ee">Scarner</div>
  <div class="t" style="left:953.5px;top:692px;font-size:10px;color:#b4b7cc;letter-spacing:.6px">20</div>
  <div class="t" style="left:953.5px;top:740.7px;font-size:10px;color:#b4b7cc;letter-spacing:.6px">50</div>
  <div class="t" style="left:953.5px;top:788px;font-size:10px;color:#b4b7cc;letter-spacing:.6px">20</div>
  <div class="t" style="left:953.5px;top:835.6px;font-size:10px;color:#b4b7cc;letter-spacing:.6px">00</div>
  <div class="abs" style="left:977.2px;top:773.8px;width:17.2px;height:69.5px;border-radius:8.6px;background:linear-gradient(180deg,#8d85ee 0%,#7369e3 55%,#5f54da 100%)"></div>
  <div class="abs" style="left:1004.1px;top:762.9px;width:17.2px;height:80.4px;border-radius:8.6px;background:linear-gradient(180deg,#8d85ee 0%,#7369e3 55%,#5f54da 100%)"></div>
  <div class="abs" style="left:1030.5px;top:757.9px;width:17.2px;height:85.4px;border-radius:8.6px;background:linear-gradient(180deg,#8d85ee 0%,#7369e3 55%,#5f54da 100%)"></div>
  <div class="abs" style="left:1057.0px;top:753.0px;width:17.2px;height:90.3px;border-radius:8.6px;background:linear-gradient(180deg,#8d85ee 0%,#7369e3 55%,#5f54da 100%)"></div>
  <div class="abs" style="left:1083.5px;top:761.9px;width:17.2px;height:81.4px;border-radius:8.6px;background:linear-gradient(180deg,#8d85ee 0%,#7369e3 55%,#5f54da 100%)"></div>
  <div class="abs" style="left:1110.3px;top:735.1px;width:17.2px;height:108.2px;border-radius:8.6px;background:linear-gradient(180deg,#8d85ee 0%,#7369e3 55%,#5f54da 100%)"></div>
  <div class="abs" style="left:1137.1px;top:728.5px;width:17.2px;height:114.8px;border-radius:8.6px;background:linear-gradient(180deg,#8d85ee 0%,#7369e3 55%,#5f54da 100%)"></div>
  <div class="abs" style="left:1163.6px;top:736.1px;width:17.2px;height:107.2px;border-radius:8.6px;background:linear-gradient(180deg,#8d85ee 0%,#7369e3 55%,#5f54da 100%)"></div>
  <div class="abs" style="left:1190.4px;top:742.7px;width:17.2px;height:100.6px;border-radius:8.6px;background:linear-gradient(180deg,#8d85ee 0%,#7369e3 55%,#5f54da 100%)"></div>
  <div class="abs" style="left:1217.2px;top:740.0px;width:17.2px;height:103.3px;border-radius:8.6px;background:linear-gradient(180deg,#8d85ee 0%,#7369e3 55%,#5f54da 100%)"></div>
  <div class="abs" style="left:1244.0px;top:700.0px;width:17.2px;height:143.3px;border-radius:8.6px;background:linear-gradient(180deg,#8d85ee 0%,#7369e3 55%,#5f54da 100%)"></div>
  <div class="abs" style="left:1270.8px;top:723.2px;width:17.2px;height:120.1px;border-radius:8.6px;background:linear-gradient(180deg,#8d85ee 0%,#7369e3 55%,#5f54da 100%)"></div>
  <div class="abs" style="left:1297.2px;top:708.3px;width:17.2px;height:135.0px;border-radius:8.6px;background:linear-gradient(180deg,#8d85ee 0%,#7369e3 55%,#5f54da 100%)"></div>
  <div class="abs" style="left:935px;top:680px"><svg width="415" height="100" viewBox="935 680 415 100"><path d="M985.8 771.0C990.3 766.9 1003.8 752.6 1012.7 746.3C1021.6 740.0 1030.3 734.2 1039.1 733.1C1047.9 732.0 1056.8 737.8 1065.6 739.7C1074.4 741.6 1083.1 747.4 1092.1 744.7C1101.1 742.0 1110.5 729.0 1119.5 723.5C1128.5 718.0 1137.1 711.6 1146.0 711.6C1154.9 711.6 1164.4 719.8 1173.1 723.2C1181.8 726.6 1189.1 734.0 1198.0 732.1C1206.9 730.2 1217.4 717.8 1226.4 711.9C1235.4 706.0 1243.9 697.7 1252.2 697.0C1260.5 696.3 1269.4 702.8 1276.4 707.6C1283.4 712.4 1291.1 722.8 1294.0 725.8" fill="none" stroke="#44475f" stroke-width="1.1"/><circle cx="985.8" cy="771" r="1.6" fill="#585b76"/><circle cx="1012.7" cy="746.3" r="1.6" fill="#585b76"/><circle cx="1039.1" cy="733.1" r="1.6" fill="#585b76"/><circle cx="1065.6" cy="739.7" r="1.6" fill="#585b76"/><circle cx="1092.1" cy="744.7" r="1.6" fill="#585b76"/><circle cx="1119.5" cy="723.5" r="1.6" fill="#585b76"/><circle cx="1146" cy="711.6" r="1.6" fill="#585b76"/><circle cx="1173.1" cy="723.2" r="1.6" fill="#585b76"/><circle cx="1198" cy="732.1" r="1.6" fill="#585b76"/><circle cx="1226.4" cy="711.9" r="1.6" fill="#585b76"/><circle cx="1252.2" cy="697" r="1.6" fill="#585b76"/><circle cx="1276.4" cy="707.6" r="1.6" fill="#585b76"/></svg></div>
  <div class="t b" style="left:973.8px;top:810.5px;width:24px;text-align:center;font-size:7px;color:#e9e7ff">Cr</div>
  <div class="t b" style="left:1000.7px;top:804.5px;width:24px;text-align:center;font-size:7px;color:#e9e7ff">ʊɔ</div>
  <div class="t b" style="left:1027.1px;top:803.5px;width:24px;text-align:center;font-size:7px;color:#e9e7ff">ƱЬ</div>
  <div class="t b" style="left:1053.6px;top:796.0px;width:24px;text-align:center;font-size:7px;color:#e9e7ff">ɔσ</div>
  <div class="t b" style="left:1080.1px;top:799.5px;width:24px;text-align:center;font-size:7px;color:#e9e7ff">ыlɛ</div>
  <div class="t b" style="left:1106.9px;top:789.5px;width:24px;text-align:center;font-size:7px;color:#e9e7ff">6ƙ</div>
  <div class="t b" style="left:1133.7px;top:779.0px;width:24px;text-align:center;font-size:7px;color:#e9e7ff">ɔ6l</div>
  <div class="t b" style="left:1160.2px;top:792.0px;width:24px;text-align:center;font-size:7px;color:#e9e7ff">ƾñ</div>
  <div class="t b" style="left:1187.0px;top:793.5px;width:24px;text-align:center;font-size:7px;color:#e9e7ff">▭</div>
  <div class="t b" style="left:1213.8px;top:787.5px;width:24px;text-align:center;font-size:7px;color:#e9e7ff">ыñ</div>
  <div class="t b" style="left:1240.6px;top:767.5px;width:24px;text-align:center;font-size:7px;color:#e9e7ff">ıɔ</div>
  <div class="t b" style="left:1267.4px;top:787.0px;width:24px;text-align:center;font-size:7px;color:#e9e7ff">6ɔ</div>
  <div class="t b" style="left:1293.8px;top:771.5px;width:24px;text-align:center;font-size:7px;color:#e9e7ff">ıųɔ</div>
  <div class="t" style="left:973.8px;top:858px;width:24px;text-align:center;font-size:9px;color:#c3c5d8;letter-spacing:.4px">1</div>
  <div class="t" style="left:1000.7px;top:858px;width:24px;text-align:center;font-size:9px;color:#c3c5d8;letter-spacing:.4px">1</div>
  <div class="t" style="left:1027.1px;top:858px;width:24px;text-align:center;font-size:9px;color:#c3c5d8;letter-spacing:.4px">10</div>
  <div class="t" style="left:1053.6px;top:858px;width:24px;text-align:center;font-size:9px;color:#c3c5d8;letter-spacing:.4px">23</div>
  <div class="t" style="left:1080.1px;top:858px;width:24px;text-align:center;font-size:9px;color:#c3c5d8;letter-spacing:.4px">95</div>
  <div class="t" style="left:1106.9px;top:858px;width:24px;text-align:center;font-size:9px;color:#c3c5d8;letter-spacing:.4px">30</div>
  <div class="t" style="left:1133.7px;top:858px;width:24px;text-align:center;font-size:9px;color:#c3c5d8;letter-spacing:.4px">16</div>
  <div class="t" style="left:1160.2px;top:858px;width:24px;text-align:center;font-size:9px;color:#c3c5d8;letter-spacing:.4px">96</div>
  <div class="t" style="left:1187.0px;top:858px;width:24px;text-align:center;font-size:9px;color:#c3c5d8;letter-spacing:.4px">36</div>
  <div class="t" style="left:1213.8px;top:858px;width:24px;text-align:center;font-size:9px;color:#c3c5d8;letter-spacing:.4px">26</div>
  <div class="t" style="left:1240.6px;top:858px;width:24px;text-align:center;font-size:9px;color:#c3c5d8;letter-spacing:.4px">10</div>
  <div class="t" style="left:1267.4px;top:858px;width:24px;text-align:center;font-size:9px;color:#c3c5d8;letter-spacing:.4px">18</div>
  <div class="t" style="left:1293.8px;top:858px;width:24px;text-align:center;font-size:9px;color:#c3c5d8;letter-spacing:.4px">36</div>
  <div class="t" style="left:954px;top:894.5px;font-size:9.9px;color:#8a8da6">Cener lıoat (fiåıe</div>
  <div class="t b" style="left:953.5px;top:914.5px;font-size:23px;letter-spacing:1.3px">285</div>
  <div class="abs" style="left:1136.5px;top:899.5px;width:1px;height:45px;background:#282b45"></div>
  <div class="t" style="left:1160.5px;top:894.5px;font-size:10.4px;color:#8a8da6">Pasacorriitiom</div>
  <div class="t b" style="left:1160px;top:914.5px;font-size:23px;letter-spacing:.5px">28.4.<span style="font-size:19px;position:relative;top:-1px;letter-spacing:0">5̃</span></div>
  <!-- RIGHT PANEL -->
  <div class="card" style="left:1377px;top:178.5px;width:261px;height:778.5px;background:#1e2138"></div>
  <div class="t b" style="left:1396.5px;top:198px;font-size:13px">Roctosbions</div>
  <div class="pill" style="left:1567.5px;top:196px;width:46px;height:20.5px;line-height:20.5px;font-size:9px">Bronw</div>
  <div class="av" id="rv1" style="left:1395.0px;top:241.5px;width:61px;height:61px"><svg width="100%" height="100%" viewBox="0 0 64 64" preserveAspectRatio="none"><defs><linearGradient id="r1s" x1="0" y1="0" x2="0" y2="1"><stop offset="0" stop-color="#a9c5e6"/><stop offset="1" stop-color="#d9e4f0"/></linearGradient><filter id="rb1" x="-5%" y="-5%" width="110%" height="110%"><feGaussianBlur stdDeviation=".5"/></filter></defs><g filter="url(#rb1)">
<rect x="-3" y="-3" width="70" height="70" fill="url(#r1s)"/>
<path d="M0 30L4 22L44 15L60 21L64 30Z" fill="#8c4a3c"/><path d="M44 15L60 21L64 30H50Z" fill="#6f3a30"/>
<path d="M2 27H48V30H2Z" fill="#a86a4a"/>
<rect x="0" y="30" width="48" height="19" fill="#c9a072"/><path d="M48 30H64V47H48Z" fill="#a07850"/>
<rect x="3" y="34" width="4" height="13" fill="#ecdcae"/><rect x="9" y="34" width="4" height="13" fill="#ecdcae"/><rect x="16" y="34" width="5" height="13" fill="#e6d2a0"/><rect x="28" y="32" width="4" height="15" fill="#f0e4c0"/><rect x="34" y="33" width="8" height="10" fill="#e2cc98"/>
<rect x="8" y="36" width="16" height="3" fill="#f1ead8"/>
<rect x="51" y="34" width="3" height="10" fill="#5a4638"/><rect x="57" y="34" width="3" height="9" fill="#5a4638"/>
<path d="M26 48C26 42 34 41 40 43C46 41 56 41 62 44L62 50H26Z" fill="#3f6b2a"/>
<path d="M30 46C34 43 38 45 42 44" stroke="#5c8a3a" stroke-width="1.2" fill="none"/>
<path d="M0 49H64V64H0Z" fill="#8b8f96"/><path d="M0 48.5L40 50L64 47V49.5L40 52L0 50.5Z" fill="#cfcfcb"/>
</g></svg></div>
  <div class="num" style="left:1474px;top:243.8px">3,231</div>
  <div class="sub" style="left:1474px;top:271.3px">Dniue Loes</div>
  <div class="tag" style="left:1476px;top:292.5px;width:33px">Flocı</div>
  <div class="tag" style="left:1521.5px;top:292.5px;width:41px">Ewouıtz</div>
  <div class="av" id="rv2" style="left:1395.0px;top:349.7px;width:61px;height:61px"><svg width="100%" height="100%" viewBox="0 0 64 64" preserveAspectRatio="none"><defs><linearGradient id="r2s" x1="0" y1="0" x2="0" y2="1"><stop offset="0" stop-color="#8aaade"/><stop offset="1" stop-color="#cddcf2"/></linearGradient><filter id="rb2" x="-5%" y="-5%" width="110%" height="110%"><feGaussianBlur stdDeviation=".5"/></filter></defs><g filter="url(#rb2)">
<rect x="-3" y="-3" width="70" height="70" fill="url(#r2s)"/>
<path d="M4 64C5 52 12 45 25 41H39C52 45 59 52 60 64Z" fill="#7c3b4c"/>
<path d="M25.5 41C28 45.5 36 45.5 38.5 41L37.5 36H26.5Z" fill="#c49a7e"/>
<path d="M24 41.5C28 47 36 47 40 41.5" stroke="#5f2a3a" stroke-width="1.3" fill="none"/>
<ellipse cx="32" cy="25.5" rx="9.5" ry="12.5" fill="#cfa585"/>
<path d="M22.5 30C23 39 27.5 41.5 32 41.5C36.5 41.5 41 39 41.5 30C39.5 35.5 36 36.5 32 36.5C28 36.5 24.5 35.5 22.5 30Z" fill="#3a2a28" opacity=".85"/>
<path d="M22 23C20.5 11 26 6.5 33 7C40 7.5 43.5 12 42 23C41 17.5 38 15 32 15C26.5 15 23 17.5 22 23Z" fill="#2a2228"/>
<path d="M26 23.5H30M34.5 23.5H38.5" stroke="#2f2226" stroke-width="1.2" stroke-linecap="round"/>
<path d="M29 33C31 34.5 33.5 34.5 35.5 33" stroke="#e8d8cc" stroke-width="1" fill="none" stroke-linecap="round"/>
</g></svg></div>
  <div class="num" style="left:1474px;top:350.7px">132K3</div>
  <div class="sub" style="left:1474px;top:377.8px">Bısıitıovr</div>
  <div class="tag" style="left:1476px;top:399.3px;width:31px">Fiıeıuı</div>
  <div class="tag" style="left:1521.5px;top:399.3px;width:42px">Eıvıoe oıı</div>
  <div class="av" id="rv3" style="left:1395.0px;top:457.4px;width:61px;height:61px"><svg width="100%" height="100%" viewBox="0 0 64 64" preserveAspectRatio="none"><defs><linearGradient id="r3s" x1="0" y1="0" x2="0" y2="1"><stop offset="0" stop-color="#f0a070"/><stop offset=".6" stop-color="#f0b68e"/><stop offset="1" stop-color="#e0b8a4"/></linearGradient><filter id="rb3" x="-5%" y="-5%" width="110%" height="110%"><feGaussianBlur stdDeviation=".5"/></filter></defs><g filter="url(#rb3)">
<rect x="-3" y="-3" width="70" height="70" fill="url(#r3s)"/>
<path d="M0 38L8 33L14 36L18 31V46H0Z" fill="#e8c4ae"/><path d="M46 36L52 30L58 35L64 32V46H46Z" fill="#e4b49a"/>
<path d="M0 46H64V64H0Z" fill="#8a5a42"/><path d="M0 44H20L22 52H0Z" fill="#d8b4a4"/><path d="M44 46H64V52H42Z" fill="#b88a6c"/>
<path d="M18 50L19 22C20 16 26 14 32 14C38 14 44 16 45 22L46 50C42 54 22 54 18 50Z" fill="#5a5a62"/>
<path d="M21 24C22 19 27 17 32 17C37 17 42 19 43 24V30H21Z" fill="#74747c"/>
<path d="M27 28C27 24 29 22 32 22C35 22 37 24 37 28V48H27Z" fill="#26242a"/>
<path d="M30 30H34V46H30Z" fill="#8a8890" opacity=".7"/>
<path d="M16 52H48V55H16Z" fill="#3c2e2a"/>
</g></svg></div>
  <div class="num" style="left:1474px;top:459.7px">1,500</div>
  <div class="sub" style="left:1474px;top:487.2px">Biyñcidφil</div>
  <div class="tag" style="left:1476px;top:508.3px;width:33px">Cure</div>
  <div class="tag" style="left:1521.5px;top:508.3px;width:41px">ƁƁßƷƦß</div>
  <div class="av" id="rv4" style="left:1395.0px;top:565.0px;width:61px;height:61px"><svg width="100%" height="100%" viewBox="0 0 64 64" preserveAspectRatio="none"><defs><filter id="rb4" x="-5%" y="-5%" width="110%" height="110%"><feGaussianBlur stdDeviation=".5"/></filter></defs><g filter="url(#rb4)"><rect x="-3" y="-3" width="70" height="70" fill="#c7cfdb"/>
<path d="M0 0H64V20H0Z" fill="#cdd4de"/>
<path d="M4 22L10 14L14 22Z" fill="#9ea6b2"/><rect x="26" y="14" width="8" height="12" fill="#7a7f88"/><rect x="40" y="17" width="14" height="5" fill="#b8b2a6"/>
<path d="M0 20C6 17 12 22 18 19C24 17 30 21 36 20V46H0Z" fill="#3d4b32"/><path d="M2 30C8 26 14 32 20 28C26 26 30 30 34 28V44H2Z" fill="#55643f" opacity=".8"/>
<rect x="28" y="24" width="9" height="22" fill="#4a4f52"/>
<path d="M37 20H64V50H37Z" fill="#2f80da"/><path d="M37 20H41V50H37Z" fill="#1f62b4"/><rect x="43" y="26" width="5" height="4" fill="#5fa4ec"/><rect x="43" y="34" width="5" height="4" fill="#5fa4ec"/><rect x="43" y="42" width="5" height="4" fill="#2468b8"/>
<path d="M0 46H64V64H0Z" fill="#c9c1b8"/><path d="M6 50L22 47L40 51L30 56L10 55Z" fill="#e4e0da"/><path d="M34 52H44V55H34Z" fill="#c0503a"/><path d="M20 56H30V58H20Z" fill="#5a7a9a"/><path d="M44 50H58V54H44Z" fill="#8a8680"/>
</g></svg></div>
  <div class="num" style="left:1474px;top:569.6px">1000</div>
  <div class="sub" style="left:1474px;top:597px">Fivıisc Scgoercıling</div>
  <div class="tag" style="left:1476px;top:618px;width:27px">Ciiıre</div>
  <div class="tag" style="left:1521.5px;top:618px;width:39px">ßΩſñDıeʜ</div>
  <div class="av" id="rv5" style="left:1395.0px;top:671.8px;width:61px;height:61px"><svg width="100%" height="100%" viewBox="0 0 64 64" preserveAspectRatio="none"><defs><filter id="rb5" x="-5%" y="-5%" width="110%" height="110%"><feGaussianBlur stdDeviation=".5"/></filter></defs><g filter="url(#rb5)"><rect x="-3" y="-3" width="70" height="70" fill="#c9c3a6"/>
<path d="M0 0H64V14H0Z" fill="#a4afbc"/><path d="M0 10C10 8 20 12 32 9C44 7 54 11 64 9V18H0Z" fill="#bfc4c2"/>
<path d="M0 16H64V30H0Z" fill="#cfcab4"/>
<rect x="4" y="18" width="10" height="6" fill="#e6e4da"/><rect x="18" y="16" width="8" height="5" fill="#9aa2a6"/><rect x="30" y="19" width="12" height="5" fill="#ecebe4"/><rect x="46" y="17" width="12" height="6" fill="#b4ae94"/>
<path d="M0 30H64V46H0Z" fill="#c4bc98"/>
<rect x="2" y="32" width="12" height="8" fill="#ddd9c8"/><rect x="24" y="26" width="16" height="14" fill="#d8d0ae"/><rect x="28" y="29" width="8" height="8" fill="#8a8468"/><rect x="44" y="30" width="14" height="9" fill="#e2dfd2"/><rect x="16" y="34" width="6" height="8" fill="#a09a7c"/>
<path d="M0 46H64V64H0Z" fill="#bdb68e"/>
<rect x="18" y="44" width="28" height="12" fill="#e4e0cc"/><rect x="22" y="50" width="18" height="3" fill="#5c5a4c"/><rect x="4" y="48" width="10" height="8" fill="#d0ccb8"/><rect x="50" y="46" width="10" height="10" fill="#a8a27e"/><rect x="26" y="57" width="10" height="7" fill="#cfc9a8"/>
</g></svg></div>
  <div class="num" style="left:1474px;top:676.5px">2.14</div>
  <div class="sub" style="left:1474px;top:702.3px">Γcσ łıuvı</div>
  <div class="tag" style="left:1476px;top:724.5px;width:31px">Ecbłı</div>
  <div class="tag" style="left:1521.5px;top:724.5px;width:41px">Ewıııııov.</div>
  <div class="hr" style="left:1377px;top:326.0px"></div>
  <div class="hr" style="left:1377px;top:434.0px"></div>
  <div class="hr" style="left:1377px;top:542.0px"></div>
  <div class="hr" style="left:1377px;top:648.0px"></div>
  <div class="hr" style="left:1377px;top:756.0px"></div>
  <div class="t b" style="left:1397px;top:778.5px;font-size:13.8px">My Bartiano</div>
  <div class="abs" style="left:1603px;top:777px"><svg width="14" height="17" viewBox="0 0 14 17" fill="none" stroke="#c9cbe0" stroke-width="1.1" stroke-linecap="round" stroke-linejoin="round"><path d="M6 9.5C4 8 4.5 4 7 2.5C9.5 1 12.5 3 12 6C11.7 8 10 9.5 8.5 9.5"/><path d="M5.5 10.5L3.5 12V15.5H11.5V12.5L9.5 10.5"/></svg></div>
  <div class="li" style="left:1419.5px;top:821.5px;color:#a4a7c0">Flioıutniteıion</div>
  <div class="li" style="left:1419.5px;top:843.7px;color:#a4a7c0">Comıfiiıitalion</div>
  <div class="li" style="left:1419.5px;top:866.5px;color:#a4a7c0">Corıiıngs</div>
  <div class="li" style="left:1554.5px;top:821.5px;font-size:9.5px;color:#dcdeed">Mo CV</div>
  <div class="li" style="left:1554.5px;top:843.7px;font-size:9.5px;color:#dcdeed">RΛułk</div>
  <div class="li" style="left:1554.5px;top:866.5px;font-size:9.5px;color:#dcdeed">EBsıı/</div>
  <div class="abs" style="left:1396px;top:816px"><svg width="160" height="64" viewBox="1396 816 160 64" fill="none" stroke-linecap="round">
    <circle cx="1406" cy="826.4" r="5.7" fill="#a6e6ed"/><circle cx="1406" cy="826.4" r="3.6" fill="#3b9fae"/><path d="M1406.300 823.800v5.200M1405.100 825.400l1.200-1.600" stroke="#d6f6f8" stroke-width=".9"/>
    <circle cx="1406" cy="848.9" r="5.700" fill="#54568a"/><path d="M1403.400 848.200a2.800 2.800 0 0 1 5-1.200M1408.600 849.800a2.800 2.800 0 0 1-4.600 1.600" stroke="#9093c2" stroke-width="1.100"/>
    <circle cx="1406" cy="871" r="5.700" fill="#54568a"/><path d="M1403.600 869.600h4.800M1403.600 872h4.800" stroke="#9a9dca" stroke-width="1.100"/>
    <circle cx="1543.300" cy="826.400" r="6.200" fill="#f08a3a"/><circle cx="1543.600" cy="825.800" r="3.600" fill="#f9b85c"/><circle cx="1543.600" cy="825.800" r="1.500" fill="#f08a3a"/>
    <circle cx="1543.300" cy="848.900" r="6.200" fill="#f1f3fb"/><path d="M1540.600 848.400c.8-1.600 4-1.800 5.200-.2c.8 1.400-.8 2.600-2.600 2.400l-.8 1.200" stroke="#3c4066" stroke-width="1.100"/>
    <circle cx="1543.300" cy="871" r="5.700" fill="#3f4374" stroke="#8a8fc2" stroke-width="1"/><path d="M1542.200 868.600a2.400 2.400 0 1 0 3.400 3.200M1543.600 870.600l1.400 1.400" stroke="#e2e4f6" stroke-width="1"/>
  </svg></div>
  <div class="abs" style="left:1397.5px;top:899.5px;width:219px;height:36px;border-radius:6px;background:#9eebf6"></div>
  <div class="t" style="left:1397.5px;top:912px;width:219px;text-align:center;font-size:11.5px;color:#12304a;-webkit-text-stroke:.2px #12304a">Accuncy</div>

</div>
<div class="frame"></div>
</div>
</body>
</html>
